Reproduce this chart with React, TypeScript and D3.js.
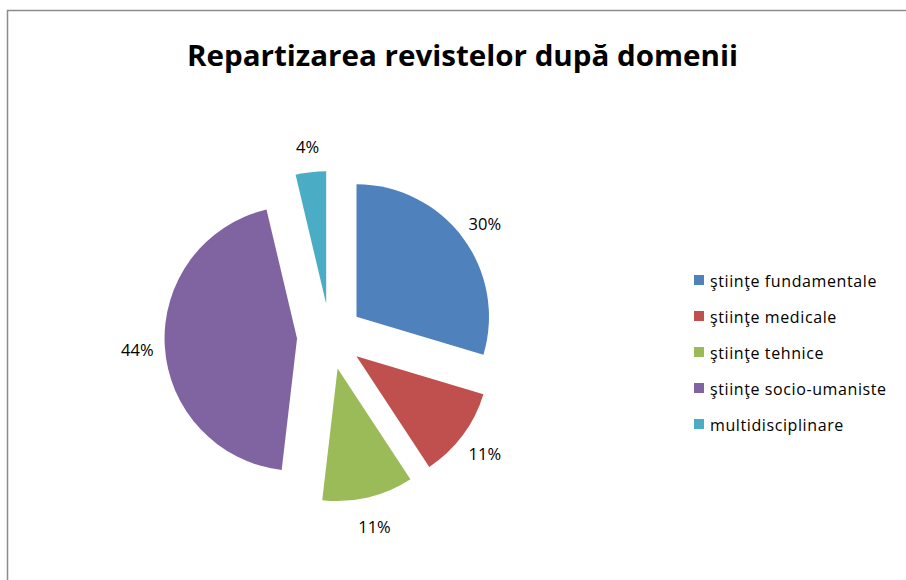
import React from "react";
import * as d3 from "d3";

const title = "Repartizarea revistelor după domenii";
const categories = [
  "ştiinţe fundamentale",
  "ştiinţe medicale",
  "ştiinţe tehnice",
  "ştiinţe socio-umaniste",
  "multidisciplinare",
];
const counts = [32, 12, 12, 48, 4];
const colors = ["#4F81BD", "#C0504D", "#9BBB59", "#8064A2", "#4BACC6"];

const W = 906;
const H = 580;
const cx = 330;
const cy = 336.5;
const R = 132.5;
const explode = 33;
const labelDist = 193;

export default function App() {
  const total = d3.sum(counts);
  const pie = d3.pie<number>().sort(null).value((d) => d)(counts);
  const arc = d3.arc<d3.PieArcDatum<number>>().innerRadius(0).outerRadius(R);
  const fmt = d3.format(".0%");

  const legendY = d3
    .scalePoint<number>()
    .domain(d3.range(categories.length))
    .range([280, 424]);

  return (
    <div style={{ position: "absolute", left: 0, top: 0, width: W, height: H }}>
      <svg width={W} height={H} style={{ display: "block" }}>
        <rect x={0} y={0} width={W} height={H} fill="#fff" />
        <rect
          x={7.5}
          y={10.5}
          width={1200}
          height={1200}
          fill="none"
          stroke="#8c8c8c"
          strokeWidth={1.5}
        />
        <text
          x={462.5}
          y={66}
          textAnchor="middle"
          fontFamily="'Open Sans', sans-serif"
          fontWeight={700}
          fontSize={29}
          textLength={551}
          lengthAdjust="spacingAndGlyphs"
          fill="#000"
        >
          {title}
        </text>
        <g>
          {pie.map((p, i) => {
            const mid = (p.startAngle + p.endAngle) / 2;
            const dx = Math.sin(mid);
            const dy = -Math.cos(mid);
            return (
              <g key={i}>
                <path
                  d={arc(p) || ""}
                  transform={`translate(${cx + dx * explode},${cy + dy * explode})`}
                  fill={colors[i]}
                />
                <text
                  x={cx + dx * labelDist}
                  y={cy + dy * labelDist + 2}
                  textAnchor="middle"
                  dominantBaseline="central"
                  fontFamily="'Open Sans', sans-serif"
                  fontSize={16.5}
                  fill="#000"
                >
                  {fmt(p.value / total)}
                </text>
              </g>
            );
          })}
        </g>
        <g>
          {categories.map((c, i) => {
            const y = legendY(i) as number;
            return (
              <g key={c}>
                <rect x={694} y={y - 5} width={10} height={10} fill={colors[i]} />
                <text
                  x={710}
                  y={y + 1}
                  dominantBaseline="central"
                  fontFamily="'Open Sans', sans-serif"
                  fontSize={16}
                  letterSpacing={0.6}
                  fill="#000"
                >
                  {c}
                </text>
              </g>
            );
          })}
        </g>
      </svg>
    </div>
  );
}
